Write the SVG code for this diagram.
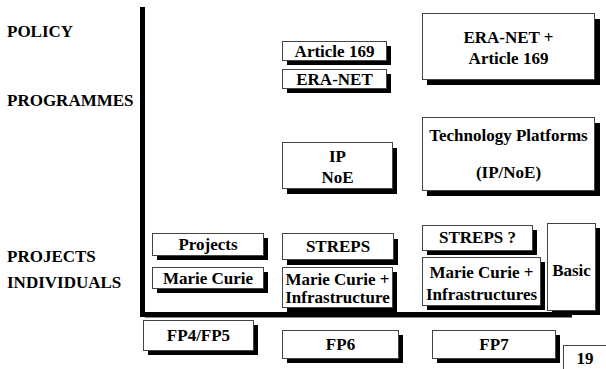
<svg xmlns="http://www.w3.org/2000/svg" width="606" height="369" viewBox="0 0 606 369">
<style>
text{font-family:'Liberation Serif','Times New Roman',serif;font-weight:bold;font-size:17px;fill:#000}
.c{text-anchor:middle}
.sh{fill:#000}
.bx{fill:#fff;stroke:#444;stroke-width:1}
.ax{fill:#000}
</style>
<rect width="606" height="369" fill="#fff"/>
<g id="labels">
<text x="7" y="37">POLICY</text>
<text x="7" y="106">PROGRAMMES</text>
<text x="7" y="262">PROJECTS</text>
<text x="7" y="288">INDIVIDUALS</text>
</g>
<g id="connectors">
<rect class="ax" x="140" y="7" width="5" height="310"/>
<rect class="ax" x="140" y="312" width="432" height="5"/>
<rect x="145" y="317" width="427" height="1" fill="#888"/>
</g>
<g id="article169">
<rect class="sh" x="287" y="46" width="104" height="19"/>
<rect class="bx" x="282.5" y="41.5" width="104" height="19"/>
<text class="c" x="334.5" y="57">Article 169</text>
</g>
<g id="eranet">
<rect class="sh" x="287" y="74" width="104" height="19"/>
<rect class="bx" x="282.5" y="69.5" width="104" height="19"/>
<text class="c" x="334.5" y="85">ERA-NET</text>
</g>
<g id="eranet-article169">
<rect class="sh" x="427" y="19" width="173" height="66"/>
<rect class="bx" x="422.5" y="13.5" width="172" height="66"/>
<text class="c" x="508.5" y="43">ERA-NET +</text>
<text class="c" x="508.5" y="64">Article 169</text>
</g>
<g id="ipnoe">
<rect class="sh" x="287" y="148" width="110" height="46"/>
<rect class="bx" x="282.5" y="142.5" width="110" height="46"/>
<text class="c" x="337.5" y="162">IP</text>
<text class="c" x="337.5" y="183">NoE</text>
</g>
<g id="techplatforms">
<rect class="sh" x="427" y="123" width="173" height="73"/>
<rect class="bx" x="422.5" y="117.5" width="172" height="73"/>
<text class="c" x="508.5" y="141">Technology Platforms</text>
<text class="c" x="508.5" y="178">(IP/NoE)</text>
</g>
<g id="projects">
<rect class="sh" x="157" y="238" width="111" height="22"/>
<rect class="bx" x="152.5" y="233.5" width="111" height="22"/>
<text class="c" x="208" y="250">Projects</text>
</g>
<g id="mariecurie">
<rect class="sh" x="157" y="272" width="111" height="21"/>
<rect class="bx" x="152.5" y="267.5" width="111" height="21"/>
<text class="c" x="208" y="284">Marie Curie</text>
</g>
<g id="streps">
<rect class="sh" x="287" y="239" width="111" height="26"/>
<rect class="bx" x="282.5" y="233.5" width="111" height="26"/>
<text class="c" x="338" y="252">STREPS</text>
</g>
<g id="mariecurie-infra">
<rect class="sh" x="287" y="272" width="110" height="40"/>
<rect class="bx" x="282.5" y="267.5" width="110" height="40"/>
<text class="c" x="337.5" y="285">Marie Curie +</text>
<text class="c" x="337.5" y="303">Infrastructure</text>
</g>
<g id="streps-q">
<rect class="sh" x="427" y="230" width="110" height="25"/>
<rect class="bx" x="422.5" y="225.5" width="110" height="25"/>
<text class="c" x="477.5" y="243">STREPS ?</text>
</g>
<g id="mariecurie-infras">
<rect class="sh" x="427" y="262" width="118" height="48"/>
<rect class="bx" x="422.5" y="257.5" width="118" height="48"/>
<text class="c" x="481.5" y="278">Marie Curie +</text>
<text class="c" x="481.5" y="300">Infrastructures</text>
</g>
<g id="basic">
<rect class="sh" x="552" y="228" width="48" height="87"/>
<rect class="bx" x="547.5" y="223.5" width="48" height="87"/>
<text class="c" x="571.5" y="276">Basic</text>
</g>
<g id="fp45">
<rect class="sh" x="148" y="325" width="110" height="30"/>
<rect class="bx" x="143.5" y="320.5" width="110" height="30"/>
<text class="c" x="198.5" y="341">FP4/FP5</text>
</g>
<g id="fp6">
<rect class="sh" x="287" y="335" width="116" height="28"/>
<rect class="bx" x="282.5" y="330.5" width="116" height="28"/>
<text class="c" x="340.5" y="350">FP6</text>
</g>
<g id="fp7">
<rect class="sh" x="437" y="335" width="123" height="28"/>
<rect class="bx" x="432.5" y="330.5" width="123" height="28"/>
<text class="c" x="494" y="350">FP7</text>
</g>
<g id="page">
<rect class="bx" x="563.5" y="345.5" width="50" height="30"/>
<text class="c" x="585" y="364">19</text>
</g>
</svg>
